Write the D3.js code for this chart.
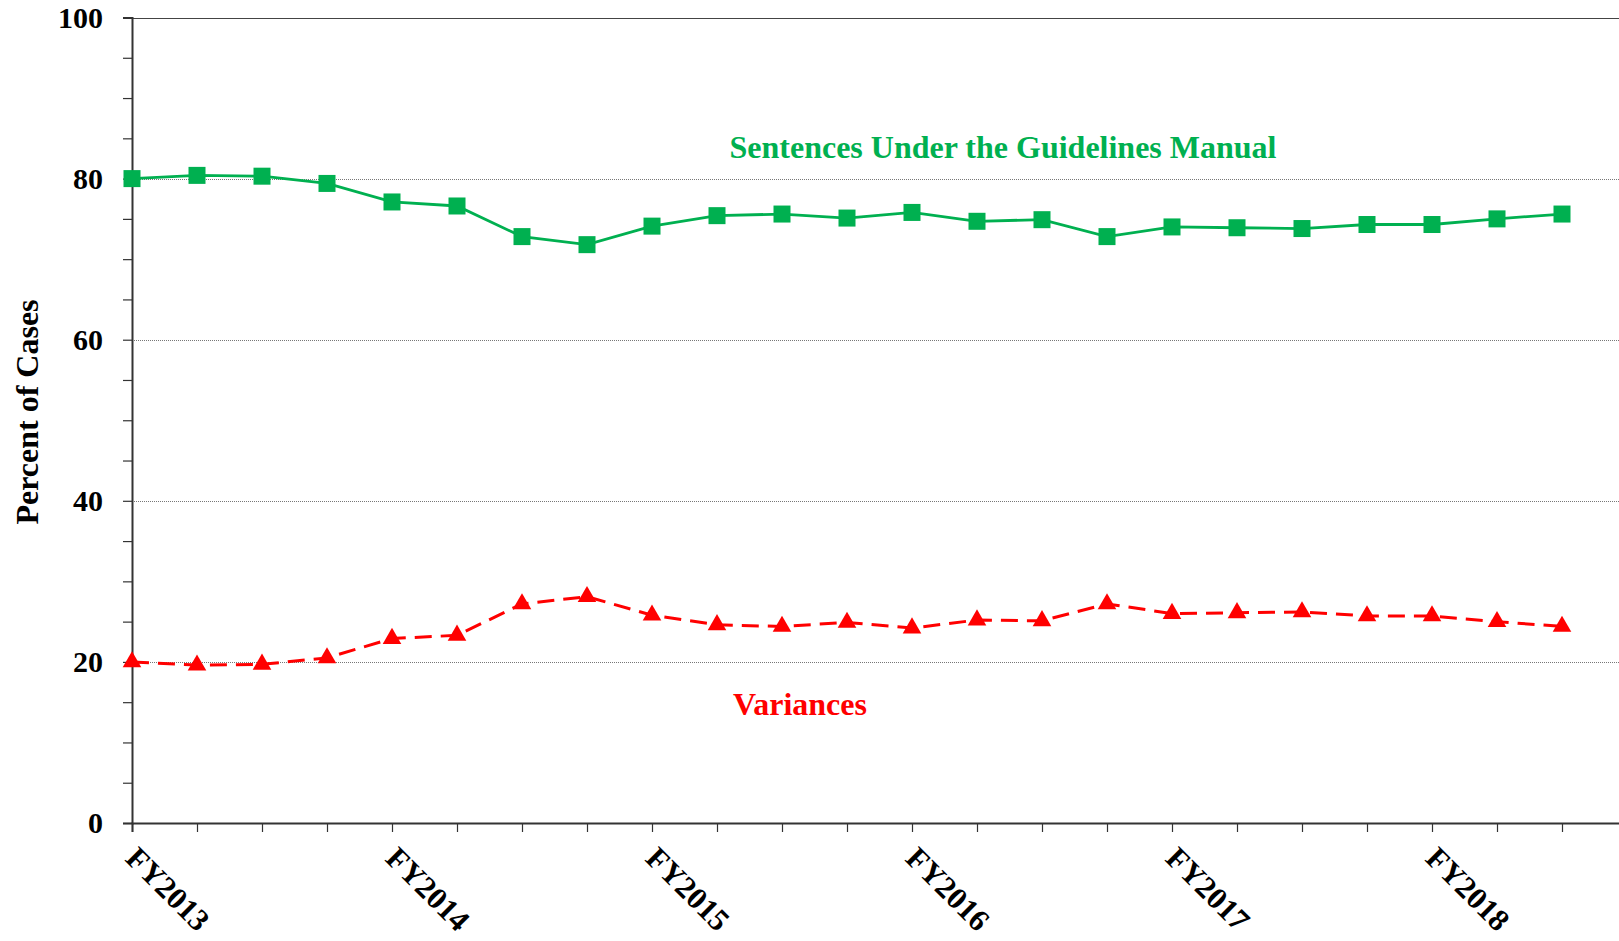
<!DOCTYPE html>
<html>
<head>
<meta charset="utf-8">
<script src="https://cdn.jsdelivr.net/npm/d3@7"></script>
<style>
   html, body { margin: 0; padding: 0; background: #fff; overflow: hidden; }
   svg { display: block; font-family: "Liberation Serif", "Times New Roman", serif; font-weight: bold; }
</style>
</head>
<body>
<div id="chart"></div>
<script>
"use strict";

// quarters, FY2013 Q1 .. FY2018 Q3
const quarters = [
   "FY2013 Q1", "FY2013 Q2", "FY2013 Q3", "FY2013 Q4",
   "FY2014 Q1", "FY2014 Q2", "FY2014 Q3", "FY2014 Q4",
   "FY2015 Q1", "FY2015 Q2", "FY2015 Q3", "FY2015 Q4",
   "FY2016 Q1", "FY2016 Q2", "FY2016 Q3", "FY2016 Q4",
   "FY2017 Q1", "FY2017 Q2", "FY2017 Q3", "FY2017 Q4",
   "FY2018 Q1", "FY2018 Q2", "FY2018 Q3"
];

const guidelinesManual = [
   80.0, 80.4, 80.3, 79.4, 77.1, 76.6, 72.8, 71.8,
   74.1, 75.4, 75.6, 75.1, 75.8, 74.7, 74.9, 72.8,
   74.0, 73.9, 73.8, 74.3, 74.3, 75.0, 75.6
];

const variances = [
   20.0, 19.6, 19.7, 20.5, 22.9, 23.3, 27.2, 28.1,
   25.8, 24.6, 24.4, 24.9, 24.2, 25.2, 25.1, 27.2,
   26.0, 26.1, 26.2, 25.7, 25.7, 25.0, 24.4
];

const yMajorTicks = [0, 20, 40, 60, 80, 100];
const yMinorTicks = d3.range(0, 101, 5);

(function () {
   const width = 1619;
   const height = 941;
   const plotLeft = 132;
   const step = 65;
   const plotBottom = 823;
   const plotTop = 17.5;

   const x = d3.scaleLinear()
      .domain([0, quarters.length])
      .range([plotLeft, plotLeft + quarters.length * step]);

   const y = d3.scaleLinear()
      .domain([0, 100])
      .range([plotBottom, plotTop]);

   const svg = d3.select("#chart").append("svg")
      .attr("width", width)
      .attr("height", height);

   // gridlines
   svg.append("g")
      .selectAll("line")
      .data(yMajorTicks.filter(d => d > 0))
      .join("line")
      .attr("x1", plotLeft)
      .attr("x2", width)
      .attr("y1", d => Math.round(y(d)) + 0.5)
      .attr("y2", d => Math.round(y(d)) + 0.5)
      .attr("stroke", d => d == 100 ? "#444" : "#777")
      .attr("stroke-width", 1)
      .attr("stroke-dasharray", d => d == 100 ? null : "1,1");

   // y axis: minor ticks, then labels for the major ones
   const yAxis = d3.axisLeft(y)
      .tickValues(yMinorTicks)
      .tickSize(9)
      .tickFormat(d => yMajorTicks.includes(d) ? d : "");

   svg.append("g")
      .attr("transform", `translate(${plotLeft},0)`)
      .call(yAxis)
      .call(g => g.select(".domain").attr("stroke", "#333").attr("stroke-width", 2))
      .call(g => g.selectAll(".tick line").attr("stroke", "#333").attr("stroke-width", 1.2))
      .call(g => g.selectAll(".tick text")
         .attr("x", -29)
         .attr("fill", "#000")
         .style("font-size", "30px")
         .style("font-family", "'Liberation Serif', serif")
         .style("font-weight", "bold"));

   // x axis
   const xAxis = d3.axisBottom(x)
      .tickValues(d3.range(quarters.length + 1))
      .tickSize(9)
      .tickFormat("");

   svg.append("g")
      .attr("transform", `translate(0,${plotBottom})`)
      .call(xAxis)
      .call(g => g.select(".domain").attr("stroke", "#333").attr("stroke-width", 2))
      .call(g => g.selectAll(".tick line").attr("stroke", "#333").attr("stroke-width", 1.2));

   svg.append("g")
      .selectAll("text")
      .data(quarters.map((q, i) => ({ q, i })).filter(d => d.q.endsWith("Q1")))
      .join("text")
      .attr("transform", d => `translate(${x(d.i) - 8},${plotBottom + 37}) rotate(45)`)
      .style("font-size", "31px")
      .attr("fill", "#000")
      .text(d => d.q.split(" ")[0]);

   // y title
   svg.append("text")
      .attr("transform", "translate(38,412) rotate(-90)")
      .attr("text-anchor", "middle")
      .style("font-size", "32px")
      .attr("fill", "#000")
      .text("Percent of Cases");

   const line = d3.line()
      .x((d, i) => x(i))
      .y(d => y(d));

   // sentences under the guidelines manual
   svg.append("path")
      .datum(guidelinesManual)
      .attr("d", line)
      .attr("fill", "none")
      .attr("stroke", "#00B050")
      .attr("stroke-width", 2.8);

   const sq = 17;
   svg.append("g")
      .selectAll("rect")
      .data(guidelinesManual)
      .join("rect")
      .attr("x", (d, i) => x(i) - sq / 2)
      .attr("y", d => y(d) - sq / 2)
      .attr("width", sq)
      .attr("height", sq)
      .attr("fill", "#00B050");

   // variances
   svg.append("path")
      .datum(variances)
      .attr("d", line)
      .attr("fill", "none")
      .attr("stroke", "#FF0000")
      .attr("stroke-width", 3)
      .attr("stroke-dasharray", "17,9");

   const tri = d3.symbol().type(d3.symbolTriangle).size(150);
   svg.append("g")
      .selectAll("path")
      .data(variances)
      .join("path")
      .attr("transform", (d, i) => `translate(${x(i)},${y(d)})`)
      .attr("d", tri)
      .attr("fill", "#FF0000");

   // series labels
   svg.append("text")
      .attr("x", 1003)
      .attr("y", 158)
      .attr("text-anchor", "middle")
      .style("font-size", "32px")
      .attr("fill", "#00B050")
      .text("Sentences Under the Guidelines Manual");

   svg.append("text")
      .attr("x", 800)
      .attr("y", 715)
      .attr("text-anchor", "middle")
      .style("font-size", "32px")
      .attr("fill", "#FF0000")
      .text("Variances");
})();
</script>
</body>
</html>
